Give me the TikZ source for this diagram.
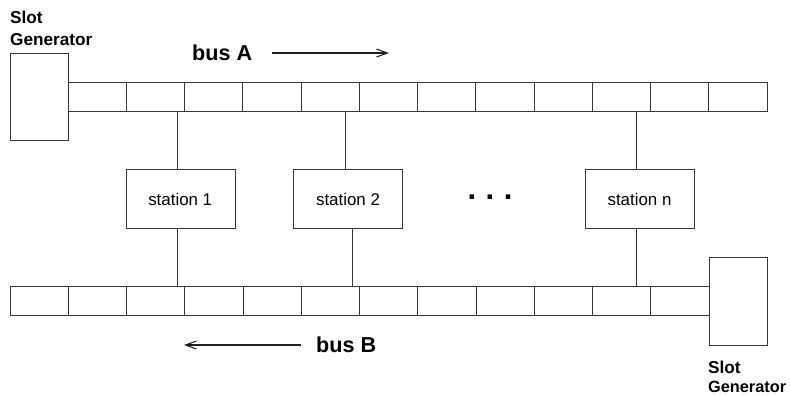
\documentclass[tikz,border=0pt]{standalone}
\usepackage{fontspec}
\setmainfont{Liberation Sans}
\usetikzlibrary{arrows.meta}
\tikzset{
  x=1pt,y=-1pt,
  lineink/.style={draw=black!78,line width=0.95pt},
  cell/.style={lineink,rectangle,inner sep=0pt,outer sep=0pt,minimum width=58.25pt,minimum height=29.2pt,anchor=north west},
  generator/.style={lineink,rectangle,inner sep=0pt,outer sep=0pt,minimum width=58.2pt,minimum height=87.5pt,anchor=north west},
  stationbox/.style={lineink,rectangle,inner sep=0pt,outer sep=0pt,minimum width=109pt,minimum height=58.5pt,anchor=north west},
  stationtext/.style={inner sep=0pt,anchor=base,font=\fontsize{16.9}{19}\selectfont},
  genlabel/.style={inner sep=0pt,anchor=base west,font=\fontsize{17.2}{22}\selectfont\bfseries},
  genlabelfit/.style={inner sep=0pt,anchor=base west,font=\fontsize{16.3}{22}\selectfont\bfseries},
  buslabel/.style={inner sep=0pt,anchor=base west,font=\fontsize{21.6}{24}\selectfont\bfseries},
  wire/.style={lineink},
  flow/.style={draw=black!88,line width=1.05pt,-{Straight Barb[length=11pt,width=8pt]}},
}
\begin{document}
\begin{tikzpicture}
\useasboundingbox (0,0) rectangle (790,396);
\fill[white] (0,0) rectangle (790,396);
% bus cells
\foreach \i in {1,...,12}{
  \node[cell] (A\i) at ({68+(\i-1)*58.25},82) {};
  \node[cell] (B\i) at ({10+(\i-1)*58.25},286.6) {};
}
% generators
\node[generator] (genA) at (10,53) {};
\node[generator] (genB) at (709,257.5) {};
% stations
\node[stationbox] (s1) at (126.7,169.5) {};
\node[stationbox] (s2) at (293.8,169.5) {};
\node[stationbox] (sn) at (585,169.5) {};
\node[stationtext] (s1t) at (180.2,205.5) {station 1};
\node[stationtext] (s2t) at (348,205.5) {station 2};
\node[stationtext] (snt) at (639.5,205.5) {station n};
% taps on the buses
\coordinate (ta1) at (177.3,111.2);
\coordinate (ta2) at (345,111.2);
\coordinate (tan) at (636,111.2);
\coordinate (tb1) at (177.3,286.6);
\coordinate (tb2) at (352,286.6);
\coordinate (tbn) at (636,286.6);
\draw[wire] (ta1) -- (ta1 |- s1.north);
\draw[wire] (ta2) -- (ta2 |- s2.north);
\draw[wire] (tan) -- (tan |- sn.north);
\draw[wire] (tb1 |- s1.south) -- (tb1);
\draw[wire] (tb2 |- s2.south) -- (tb2);
\draw[wire] (tbn |- sn.south) -- (tbn);
% labels
\node[genlabel] (gla) at (10,24) {Slot};
\node[genlabel] (glb) at (10,46) {Generator};
\node[genlabel] (glc) at (708,373) {Slot};
\node[genlabelfit] (gld) at (708,392.5) {Generator};
\node[buslabel] (busA) at (192,60) {bus A};
\node[buslabel] (busB) at (316,352) {bus B};
\coordinate (fa1) at (272,53);
\coordinate (fa2) at (389,53);
\coordinate (fb1) at (301,345);
\coordinate (fb2) at (184,345);
\draw[flow] (fa1) -- (fa2);
\draw[flow] (fb1) -- (fb2);
\node[inner sep=0pt,anchor=base,font=\fontsize{31}{34}\selectfont\bfseries] (dots) at (490,199) {.\hspace{9.5pt}.\hspace{9.5pt}.};
\end{tikzpicture}
\end{document}
